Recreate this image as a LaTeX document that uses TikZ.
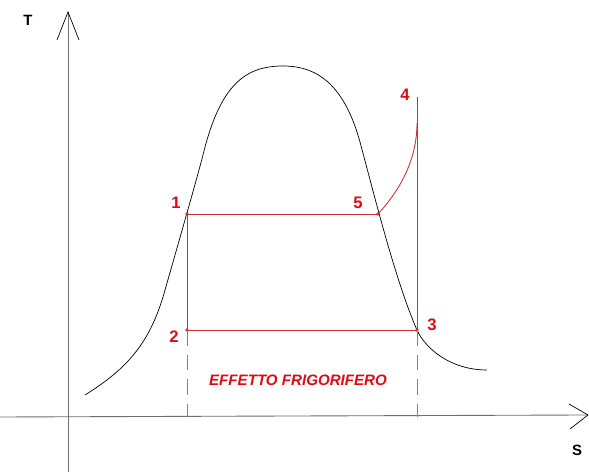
\documentclass[tikz,border=0pt]{standalone}
\usepackage{fontspec}
\setmainfont{Liberation Sans}
\definecolor{cyclered}{RGB}{200,50,55}
\definecolor{labelred}{RGB}{225,10,20}
\definecolor{dashred}{RGB}{195,100,115}
\definecolor{axisgray}{RGB}{110,110,110}
\begin{document}
\begin{tikzpicture}[x=0.02cm, y=-0.02cm,
    axis/.style={axisgray, line width=0.5pt},
    cycle/.style={cyclered, line width=0.5pt},
    point/.style={circle, fill=cyclered, inner sep=0pt, minimum size=2.2pt},
    num/.style={labelred, font=\fontsize{9.5}{10}\selectfont\bfseries},
    axlabel/.style={black, font=\fontsize{8.5}{10}\selectfont\bfseries}]
    \useasboundingbox (0,0) rectangle (589,472);

    % Axes
    \coordinate (o) at (68,417);
    \coordinate (ytop) at (68,12);
    \coordinate (xend) at (588,415);
    \draw[axis] (68,472) -- (ytop);
    \draw[axis] (0,417) -- (xend);
    \draw[black, line width=0.4pt] (57,40) -- (ytop) -- (79,40);
    \draw[black, line width=0.4pt] (569,404) -- (xend) -- (570,429);
    \node[axlabel] (T) at (28,20) {T};
    \node[axlabel] (S) at (577,450) {S};

    % Saturation dome
    \draw[black, line width=0.4pt] (85,395)
        .. controls (125,370) and (150,345) .. (165,290)
        .. controls (175,255) and (196,182) .. (203,155)
        .. controls (220,85) and (245,66) .. (283,66)
        .. controls (320,66) and (345,88) .. (360,142)
        .. controls (373,190) and (395,280) .. (417,330)
        .. controls (425,348) and (450,370) .. (487,370);

    % Cycle points
    \node[point] (p1) at (187,214) {};
    \node[point] (p2) at (187,330) {};
    \node[point] (p3) at (417,330) {};
    \node[point] (p5) at (378,214) {};
    \coordinate (p4) at (417,97);
    \coordinate (p4c) at (417,123);
    \coordinate (d2) at (187,417);
    \coordinate (d3) at (417,417);

    % Cycle lines
    \draw[cycle] (p1.center) -- (p5.center);
    \draw[cycle] (p2.center) -- (p3.center);
    \draw[cycle] (p1.center) -- (p2.center);
    \draw[cycle] (p3.center) -- (p4);
    \draw[cycle] (p5.center) .. controls (400,190) and (417,160) .. (p4c);
    \draw[dashred, dashed, dash pattern=on 9pt off 5pt, line width=0.5pt] (p2.center) -- (d2);
    \draw[dashred, dashed, dash pattern=on 9pt off 5pt, line width=0.5pt] (p3.center) -- (d3);

    % Labels
    \node[num] (l1) at (176,203) {1};
    \node[num] (l2) at (174,337) {2};
    \node[num] (l3) at (432,325) {3};
    \node[num] (l4) at (405,95) {4};
    \node[num] (l5) at (358,203) {5};
    \node[labelred, font=\fontsize{8.6}{10}\selectfont\bfseries\itshape] (eff) at (298,380) {EFFETTO FRIGORIFERO};
\end{tikzpicture}
\end{document}
